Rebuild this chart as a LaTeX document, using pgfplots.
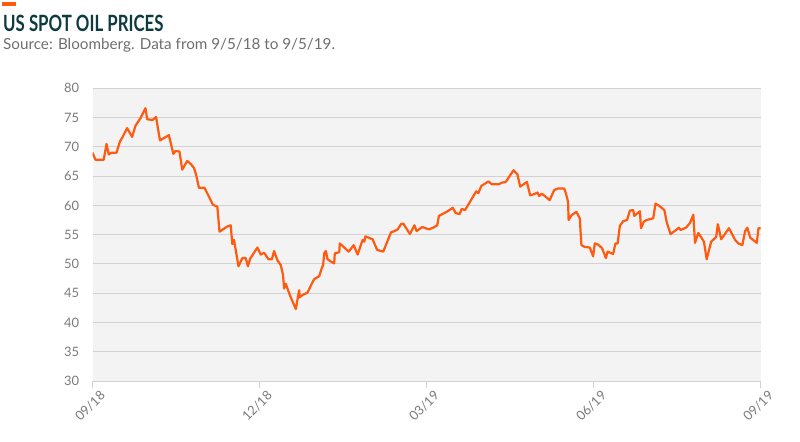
\documentclass[border=0pt]{standalone}
\usepackage{fontspec}
\setmainfont{Lato}
\usepackage{pgfplots}
\pgfplotsset{compat=1.18}
\definecolor{oil}{HTML}{FF5A0F}
\definecolor{titleC}{HTML}{0E3B3F}
\definecolor{subC}{HTML}{6E6E6E}
\definecolor{tickC}{HTML}{7A7A7A}
\definecolor{gridC}{HTML}{D2D2D2}
\definecolor{bgC}{HTML}{F3F3F3}

\begin{document}
\begin{tikzpicture}
\path[use as bounding box] (0bp,0bp) rectangle (800bp,442bp);
% orange tag and titles
\fill[oil] (2bp,436bp) rectangle (16bp,440bp);
\node[anchor=base west, inner sep=0, text=titleC, font=\fontsize{22.5}{26}\selectfont\bfseries]
  at (3bp,410.3bp) {\scalebox{0.75}[1]{US SPOT OIL PRICES}};
\node[anchor=base west, inner sep=0, text=subC, font=\fontsize{15.3}{18}\selectfont]
  at (3bp,392bp) {Source: Bloomberg. Data from 9/5/18 to 9/5/19.};

\begin{axis}[
  at={(92.6bp,61bp)}, anchor=south west,
  scale only axis, width=668.1bp, height=292.7bp,
  xmin=0, xmax=12, ymin=30, ymax=80,
  axis background/.style={fill=bgC},
  axis line style={draw=none},
  ytick={30,35,...,80},
  ymajorgrids, grid style={gridC, line width=1bp},
  ytick style={draw=none},
  xtick={0,3,6,9,12},
  xticklabels={09/18,12/18,03/19,06/19,09/19},
  xtick pos=bottom, tick align=outside,
  xtick style={gridC, line width=1bp},
  major tick length=7bp,
  ticklabel style={text=tickC, font=\fontsize{13}{15}\selectfont},
  yticklabel style={xshift=-3bp},
  xticklabel style={rotate=45, anchor=east, xshift=7bp, yshift=-11bp},
  /pgf/number format/assume math mode=true,
]
% month index (0 = 9/5/18, 12 = 9/5/19), USD per barrel
\addplot[oil, line width=2.2bp, line join=round] coordinates {
(0,69.0) (0.05,67.8) (0.20,67.8) (0.25,70.5) (0.29,68.7) (0.34,69.0) (0.43,69.0)
(0.49,70.9) (0.54,71.7) (0.62,73.2) (0.71,71.7) (0.77,73.6) (0.86,74.9) (0.95,76.6)
(0.98,74.7) (1.08,74.6) (1.14,75.1) (1.21,71.1) (1.37,72.0) (1.45,68.8) (1.49,69.3)
(1.56,69.2) (1.61,66.1) (1.70,67.6) (1.77,67.0) (1.82,66.4) (1.86,65.2) (1.91,63.0)
(2.01,63.0) (2.10,61.3) (2.16,60.1) (2.24,59.8) (2.28,55.5) (2.42,56.4) (2.48,56.6)
(2.51,53.4) (2.54,54.1) (2.62,49.6) (2.69,51.0) (2.75,51.0) (2.79,49.6) (2.83,50.9)
(2.96,52.8) (3.02,51.6) (3.08,51.9) (3.16,50.8) (3.22,50.8) (3.26,52.2) (3.32,50.6)
(3.38,49.8) (3.42,48.1) (3.44,45.8) (3.47,46.6) (3.55,44.5) (3.65,42.3) (3.71,45.5)
(3.72,44.3) (3.77,44.7) (3.86,45.1) (3.93,46.5) (3.98,47.4) (4.07,47.9) (4.11,49.1)
(4.14,49.8) (4.16,51.8) (4.19,52.2) (4.22,50.8) (4.28,50.4) (4.34,50.1) (4.35,51.8)
(4.43,52.0) (4.44,53.5) (4.60,52.1) (4.69,53.2) (4.76,51.6) (4.85,54.1) (4.88,53.8)
(4.90,54.7) (5.03,54.2) (5.07,53.3) (5.11,52.4) (5.22,52.1) (5.36,55.4) (5.42,55.6)
(5.48,55.9) (5.54,56.8) (5.58,56.9) (5.70,55.1) (5.78,56.6) (5.82,55.6) (5.92,56.3)
(6.04,55.9) (6.12,56.2) (6.19,56.6) (6.22,58.2) (6.36,58.9) (6.47,59.6) (6.52,58.7)
(6.59,58.5) (6.63,59.4) (6.69,59.2) (6.89,62.4) (6.93,62.1) (6.98,63.3) (7.11,64.1)
(7.17,63.6) (7.29,63.6) (7.36,63.9) (7.42,64.0) (7.56,66.0) (7.63,65.3) (7.68,63.2)
(7.80,64.0) (7.86,61.7) (7.95,62.0) (7.99,62.2) (8.02,61.6) (8.07,62.0) (8.21,60.9)
(8.29,62.6) (8.36,62.9) (8.47,62.9) (8.50,62.1) (8.54,60.6) (8.55,57.5) (8.60,58.3)
(8.69,58.9) (8.75,57.8) (8.78,53.2) (8.84,52.9) (8.93,52.8) (8.99,51.3) (9.02,53.5)
(9.08,53.3) (9.15,52.7) (9.22,51.0) (9.25,52.1) (9.35,51.7) (9.39,53.5) (9.43,53.5)
(9.47,56.5) (9.53,57.3) (9.60,57.5) (9.65,59.1) (9.71,59.2) (9.73,58.2) (9.83,59.0)
(9.85,56.1) (9.90,57.2) (9.95,57.5) (10.07,57.8) (10.11,60.3) (10.18,59.9) (10.27,59.2)
(10.31,57.2) (10.38,55.1) (10.48,55.8) (10.53,56.2) (10.56,55.8) (10.66,56.2) (10.73,57.0)
(10.79,58.4) (10.82,53.6) (10.88,55.3) (10.98,53.8) (11.03,50.8) (11.11,53.8) (11.20,54.6)
(11.23,56.8) (11.29,54.2) (11.43,56.1) (11.54,54.1) (11.60,53.5) (11.67,53.2) (11.72,55.6)
(11.76,56.2) (11.81,54.5) (11.93,53.6) (11.96,56.1) (12.00,56.1)
};
\end{axis}
\end{tikzpicture}
\end{document}
